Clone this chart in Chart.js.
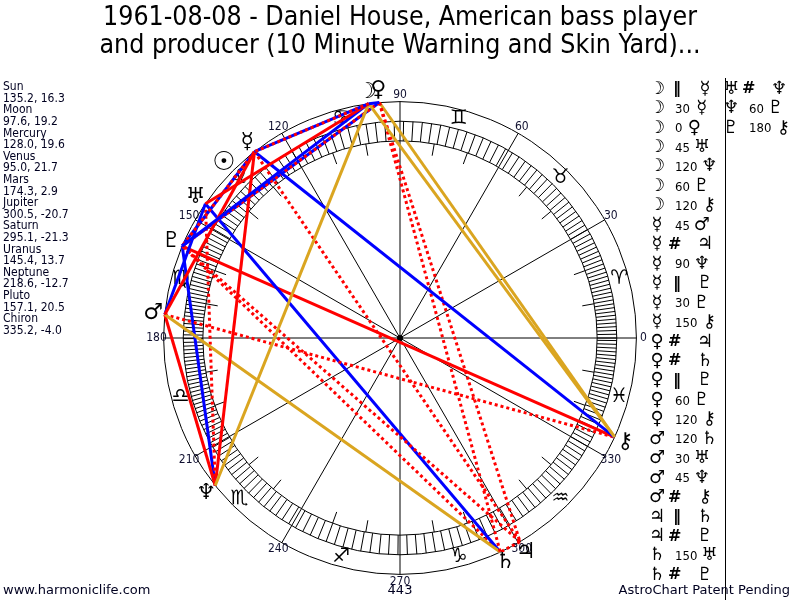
<!DOCTYPE html>
<html>
<head>
<meta charset="utf-8">
<style>
html, body { margin: 0; padding: 0; background: #fff; }
#wrap { width: 800px; height: 600px; position: relative; }
</style>
<script src="https://cdn.jsdelivr.net/npm/chart.js@4.4.0/dist/chart.umd.min.js"></script>
</head>
<body>
<div id="wrap"><canvas id="wheel" width="800" height="600"></canvas></div>
<script>
const titleLines = ['1961-08-08 - Daniel House, American bass player',
    'and producer (10 Minute Warning and Skin Yard)...'];

const planetNames = ['Sun', 'Moon', 'Mercury', 'Venus', 'Mars', 'Jupiter', 'Saturn', 'Uranus', 'Neptune', 'Pluto', 'Chiron'];
const planetGlyphs = ['\u2609', '\u263D', '\u263F', '\u2640', '\u2642', '\u2643', '\u2644', '\u2645', '\u2646', '\u2647', '\u26B7'];
const longitudes = [135.2, 97.6, 128.0, 95.0, 174.3, 300.5, 295.1, 145.4, 218.6, 157.1, 335.2];
const declinations = [16.3, 19.2, 19.6, 21.7, 2.9, -20.7, -21.3, 13.7, -12.7, 20.5, -4.0];

// aspects (P = parallel, C = contraparallel)
const aspectFrom = [1, 1, 1, 1, 1, 1, 1, 2, 2, 2, 2, 2, 2, 3, 3, 3, 3, 3, 4, 4, 4, 4, 5, 5, 6, 6, 7, 8, 9];
const aspectTo   = [2, 2, 3, 7, 8, 9, 10, 4, 5, 8, 9, 9, 10, 5, 6, 9, 9, 10, 6, 7, 8, 10, 6, 9, 7, 9, 8, 9, 10];
const aspectKind = ['P', '30', '0', '45', '120', '60', '120', '45', 'C', '90', 'P', '30', '150',
    'C', 'C', 'P', '60', '120', '120', '30', '45', 'C', 'P', 'C', '150', 'C', 'C', '60', '180'];

const degreeLabels = ['0', '30', '60', '90', '120', '150', '180', '210', '240', '270', '300', '330'];
const signGlyphs = ['\u2648', '\u2649', '\u264A', '\u264B', '\u264C', '\u264D', '\u264E', '\u264F', '\u2650', '\u2651', '\u2652', '\u2653'];

const footerLeft = 'www.harmoniclife.com';
const footerMid = '443';
const footerRight = 'AstroChart Patent Pending';

const BLUE = 'rgb(0, 0, 255)';
const RED = 'rgb(255, 0, 0)';
const GOLD = 'rgb(218, 165, 32)';
const kindColor = { '0': BLUE, '30': BLUE, '60': BLUE, '150': BLUE, '45': RED, '90': RED, '180': RED, '120': GOLD, 'P': RED, 'C': RED };

const onCircle = lon => ({ x: Math.cos(lon * Math.PI / 180), y: Math.sin(lon * Math.PI / 180) });

const aspectSets = aspectKind.map((k, i) => ({
    data: [onCircle(longitudes[aspectFrom[i]]), onCircle(longitudes[aspectTo[i]])],
    showLine: true,
    borderColor: kindColor[k],
    borderWidth: 3,
    borderDash: (k === 'P' || k === 'C') ? [3, 3] : [],
    pointRadius: 0,
    fill: false
}));

const SYM = "'DejaVu Sans'";
const TXT = "'DejaVu Sans Condensed', 'DejaVu Sans'";

const wheel = {
    id: 'wheel',
    beforeDatasetsDraw(chart) {
        const { ctx, scales: { x, y } } = chart;
        const cx = x.getPixelForValue(0), cy = y.getPixelForValue(0);
        const u = x.getPixelForValue(1) - cx;
        const pt = (deg, r) => {
            const a = deg * Math.PI / 180;
            return [cx + u * r * Math.cos(a), cy - u * r * Math.sin(a)];
        };
        const seg = (deg, r1, r2) => {
            const p = pt(deg, r1), q = pt(deg, r2);
            ctx.moveTo(p[0], p[1]); ctx.lineTo(q[0], q[1]);
        };
        ctx.save();
        ctx.strokeStyle = '#000';
        ctx.lineWidth = 1;
        [1, 0.917, 0.834].forEach(r => {
            ctx.beginPath(); ctx.arc(cx, cy, u * r, 0, Math.PI * 2); ctx.stroke();
        });
        // hatched band
        ctx.beginPath();
        let a = 0;
        while (a < 360) {
            seg(a, 0.834, 0.917);
            const s = Math.sin(a * Math.PI / 180);
            a += 1 + 1.5 * s * s;
        }
        for (let d = 10; d < 360; d += 10) {
            if (d % 30) seg(d, 0.783, 0.834);
        }
        for (let d = 0; d < 360; d += 30) seg(d, 0, 1);
        ctx.stroke();
        ctx.beginPath(); ctx.arc(cx, cy, 3, 0, Math.PI * 2); ctx.fillStyle = '#000'; ctx.fill();

        ctx.textAlign = 'center';
        ctx.textBaseline = 'middle';
        ctx.fillStyle = '#000';
        ctx.font = '20px ' + SYM;
        signGlyphs.forEach((g, i) => {
            const p = pt(15 + 30 * i, 0.96);
            ctx.fillText(g + '\uFE0E', p[0], p[1]);
        });
        ctx.fillStyle = '#101030';
        ctx.font = '12px ' + TXT;
        degreeLabels.forEach((t, i) => {
            const p = pt(30 * i, 1.03);
            ctx.fillText(t, p[0], p[1]);
        });
        ctx.restore();
    },
    afterDatasetsDraw(chart) {
        const { ctx, scales: { x, y } } = chart;
        const cx = x.getPixelForValue(0), cy = y.getPixelForValue(0);
        const u = x.getPixelForValue(1) - cx;
        ctx.save();
        ctx.textAlign = 'center';
        ctx.textBaseline = 'middle';
        ctx.fillStyle = '#000';
        planetGlyphs.forEach((g, i) => {
            const a = longitudes[i] * Math.PI / 180;
            ctx.font = i === 0 ? 'bold 26px ' + SYM : '22px ' + SYM;
            ctx.fillText(g + '\uFE0E', cx + u * 1.05 * Math.cos(a), cy - u * 1.05 * Math.sin(a));
        });

        // title
        ctx.font = '26.5px ' + TXT;
        ctx.fillText(titleLines[0], 400, 18);
        ctx.fillText(titleLines[1], 400, 46);

        // planet table on the left
        ctx.textAlign = 'left';
        ctx.font = '12px ' + TXT;
        ctx.fillStyle = '#000020';
        planetNames.forEach((n, i) => {
            ctx.fillText(n, 3, 87 + i * 23.2);
            ctx.fillText(longitudes[i].toFixed(1) + ', ' + declinations[i].toFixed(1), 3, 98.6 + i * 23.2);
        });

        // aspect list
        ctx.fillStyle = '#000';
        aspectKind.forEach((k, i) => {
            const col = i < 26 ? 0 : 1;
            const row = col ? i - 26 : i;
            const x0 = col ? 731 : 657;
            const yy = 89 + row * 19.45;
            ctx.textAlign = 'center';
            ctx.font = '18px ' + SYM;
            ctx.fillText(planetGlyphs[aspectFrom[i]], x0, yy);
            ctx.textAlign = 'left';
            let w;
            if (k === 'P') {
                ctx.font = 'bold 16px ' + SYM;
                ctx.fillText('\u2016', x0 + 16, yy);
                w = 24;
            } else if (k === 'C') {
                ctx.font = 'bold 16px ' + SYM;
                ctx.fillText('#', x0 + 11, yy);
                w = 24;
            } else {
                ctx.font = '13px ' + TXT;
                ctx.fillText(k, x0 + 18, yy + 1);
                w = ctx.measureText(k).width + 6;
            }
            ctx.textAlign = 'center';
            ctx.font = '18px ' + SYM;
            ctx.fillText(planetGlyphs[aspectTo[i]], x0 + 18 + w + 6, yy);
        });
        ctx.beginPath();
        ctx.moveTo(725.5, 78); ctx.lineTo(725.5, 600);
        ctx.strokeStyle = '#000'; ctx.lineWidth = 1; ctx.stroke();

        // footer
        ctx.font = '13px ' + SYM;
        ctx.fillStyle = '#000020';
        ctx.textAlign = 'left';
        ctx.fillText(footerLeft, 3, 591);
        ctx.textAlign = 'center';
        ctx.fillText(footerMid, 400, 591);
        ctx.textAlign = 'right';
        ctx.fillText(footerRight, 790, 591);
        ctx.restore();
    }
};

const K = 250 / 236.4;
const wheelChart = new Chart(document.getElementById('wheel'), {
    type: 'scatter',
    data: { datasets: aspectSets },
    options: {
        responsive: false,
        animation: false,
        devicePixelRatio: 1,
        layout: { padding: { left: 150, right: 150, top: 88, bottom: 12 } },
        scales: {
            x: { type: 'linear', min: -K, max: K, display: false },
            y: { type: 'linear', min: -K, max: K, display: false }
        },
        plugins: { legend: { display: false }, tooltip: { enabled: false } }
    },
    plugins: [wheel]
});
</script>
</body>
</html>
